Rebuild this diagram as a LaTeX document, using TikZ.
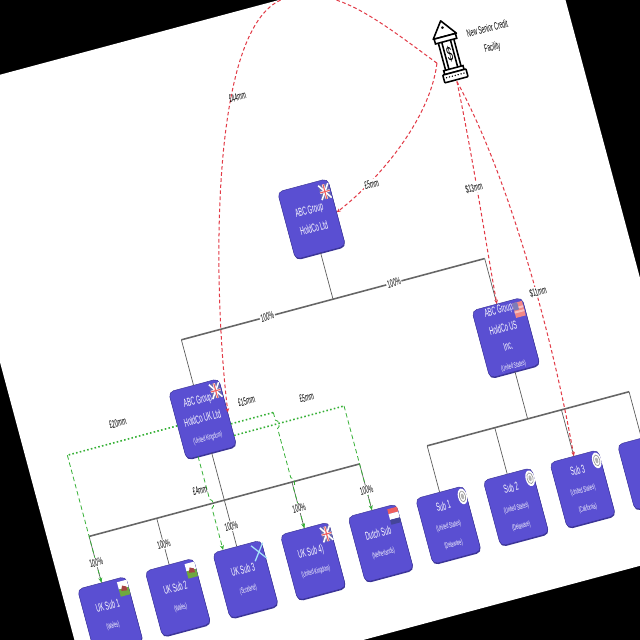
\documentclass[tikz,border=0pt]{standalone}
\usepackage{xcolor}
\usepackage{fontspec}
\setmainfont[FakeStretch=0.48, WordSpace=1]{Liberation Sans}
\usetikzlibrary{shapes, arrows, arrows.meta, positioning, shadows}
\definecolor{entity}{HTML}{5A4FD2}
\definecolor{entityedge}{HTML}{3B3496}
\definecolor{debtred}{HTML}{E23A46}
\definecolor{debtgreen}{HTML}{35B035}
\definecolor{flagblue}{HTML}{45459A}
\definecolor{flagred}{HTML}{EE5F5F}
\definecolor{flaggreen}{HTML}{6FA83E}
\newcommand{\placename}[1]{{\fontsize{3.5}{8.4}\selectfont #1}}

\tikzset{
  ukflag/.pic={
    \fill[flagblue!80!white] (-5,-7.5) rectangle (5,7.5);
    \draw[white, line width=.7pt] (-5,-7.5) -- (5,7.5) (-5,7.5) -- (5,-7.5);
    \draw[white, line width=1pt] (0,-7.5) -- (0,7.5) (-5,0) -- (5,0);
    \draw[flagred, line width=.5pt] (0,-7.5) -- (0,7.5) (-5,0) -- (5,0);
  },
  walesflag/.pic={
    \fill[white] (-5,-7.5) rectangle (5,0);
    \fill[flaggreen] (-5,0) rectangle (5,7.5);
    \fill[flagred!70!black] (-3,2) -- (-1,-3) -- (3,-1) -- (3,3) -- cycle;
  },
  scotflag/.pic={
    \draw[cyan!35!white, line width=.55pt] (-6,-8) -- (6,8) (-6,8) -- (6,-8);
  },
  dutchflag/.pic={
    \fill[flagred] (-5,-8) rectangle (5,-3);
    \fill[white] (-5,-3) rectangle (5,3);
    \fill[flagblue] (-5,3) rectangle (5,8);
  },
  usflag/.pic={
    \fill[flagred!75!white] (-5,-7.5) rectangle (5,7.5);
    \fill[white!60!flagred] (-5,-3) rectangle (5,-1) (-5,1) rectangle (5,3);
    \fill[flagblue!70!white] (-5,-7.5) rectangle (0,0);
  },
  sealmark/.pic={
    \fill[white] (0,0) ellipse (4.5 and 8);
    \draw[gray!80, line width=.3pt] (0,0) ellipse (3 and 5.5);
    \fill[gray!60] (0,0) ellipse (1.5 and 3);
  },
  bankicon/.pic={
    \draw[black, line width=.7pt, line join=round, fill=white]
      (0,-31) -- (12,-15) -- (-12,-15) -- cycle;
    \fill[black] (0,-24) circle (1.5);
    \draw[black, line width=.7pt, fill=white] (-11,-15) rectangle (11,-10);
    \draw[black, line width=.7pt] (-8,-10) -- (-8,18) (-4.5,-10) -- (-4.5,18)
      (8,-10) -- (8,18) (4.5,-10) -- (4.5,18);
    \draw[black, line width=.7pt, fill=white] (-10,18) rectangle (10,22);
    \draw[black, line width=.7pt, fill=white, rounded corners=.3pt] (-12,22) rectangle (12,30);
    \foreach \k in {-9,-6,...,9}
      \fill[black] (\k,25.5) circle (.8);
  }
}

\begin{document}
\begin{tikzpicture}[
    x=0.015625cm, y=-0.015625cm,
    holdbox/.style={
      rectangle, rounded corners=.8mm,
      draw=entityedge, line width=.2pt, fill=entity,
      text=white, font=\fontsize{5.2}{8.4}\selectfont,
      text width=.76cm, align=flush center, inner sep=0pt,
      minimum width=.81cm, minimum height=1.09cm,
      drop shadow={shadow xshift=.2pt, shadow yshift=-.5pt, fill=entityedge, opacity=1}
    },
    subbox/.style={
      holdbox, text width=.74cm,
      minimum width=.78cm, minimum height=1.06cm
    },
    tie/.style={gray!70!black, line width=.3pt},
    bus/.style={gray!80!black, line width=.7pt},
    redline/.style={-{Stealth[length=1.8pt, width=1.6pt]}, debtred, dash pattern=on 1.6pt off 1.1pt, line width=.45pt},
    greendot/.style={debtgreen, densely dotted, line width=.7pt},
    greenline/.style={-{Stealth[length=2.2pt, width=1.8pt]}, debtgreen, dash pattern=on 2pt off 1.3pt, line width=.35pt},
    amount/.style={font=\fontsize{4.8}{8.5}\selectfont, inner sep=.5pt, align=flush center},
    percent/.style={amount, fill=white}
  ]
    \useasboundingbox (0,0) rectangle (640,640);
    \fill[black] (0,0) rectangle (640,640);

    \begin{scope}[rotate around={15:(321,320)}, transform shape]
    \fill[white] (0,0) rectangle (640,640);

    % ── Top entity and the credit facility ────────────────────────────────
    \node[holdbox] (topco) at (338, 220) {ABC Group\\HoldCo Ltd};
    \node[minimum width=.44cm, minimum height=.98cm, inner sep=0pt] (bank) at (514, 93) {};
    \path (bank.center) pic {bankicon};
    \node[font=\fontsize{9}{9}\selectfont, inner sep=0pt] (bankdollar) at (514, 97) {\$};
    \node[amount] (banklabel) at (557, 92) {New Senior Credit\\Facility};

    % ── HoldCo row ────────────────────────────────────────────────────────
    \node[holdbox] (ukhold) at (181, 385) {ABC Group\\HoldCo UK Ltd\\\placename{(United Kingdom)}};
    \node[holdbox] (ushold) at (495, 385) {ABC Group\\HoldCo US\\Inc.\\\placename{(United States)}};

    % ── Subsidiary row ────────────────────────────────────────────────────
    \node[subbox] (uksub1) at (41,  551) {UK Sub 1\\\placename{(Wales)}};
    \node[subbox] (uksub2) at (111, 551) {UK Sub 2\\\placename{(Wales)}};
    \node[subbox] (uksub3) at (181, 551) {UK Sub 3\\\placename{(Scotland)}};
    \node[subbox] (uksub4) at (251, 551) {UK Sub 4)\\\placename{(United Kingdom)}};
    \node[subbox] (dutch)  at (321, 551) {Dutch Sub\\\placename{(Netherlands)}};
    \node[subbox] (ussub1) at (391, 551) {Sub 1\\\placename{(United States)}\\\placename{(Delaware)}};
    \node[subbox] (ussub2) at (461, 551) {Sub 2\\\placename{(United States)}\\\placename{(Delaware)}};
    \node[subbox] (ussub3) at (530, 551) {Sub 3\\\placename{(United States)}\\\placename{(California)}};
    \node[subbox] (ussub4) at (600, 551) {Sub 4\\\placename{(United States)}};

    % ── Flags ─────────────────────────────────────────────────────────────
    \path (topco.center) ++(20,-23) pic {ukflag};
    \path (ukhold.center) ++(20,-24) pic {ukflag};
    \path (ushold.center) ++(20,-24) pic {usflag};
    \path (uksub1.center) ++(20,-23) pic {walesflag};
    \path (uksub2.center) ++(20,-23) pic {walesflag};
    \path (uksub3.center) ++(20,-23) pic {scotflag};
    \path (uksub4.center) ++(20,-23) pic {ukflag};
    \path (dutch.center) ++(20,-23) pic {dutchflag};
    \foreach \n in {ussub1, ussub2, ussub3}
      \path (\n.center) ++(21,-24) pic {sealmark};

    % ── Ownership lines ───────────────────────────────────────────────────
    \coordinate (topleft)  at (181, 303);
    \coordinate (topright) at (495, 303);
    \coordinate (topmid)   at (338, 303);
    \coordinate (ukleft)   at (41,  469);
    \coordinate (ukright)  at (321, 469);
    \coordinate (usleft)   at (391, 469);
    \coordinate (usright)  at (600, 469);
    \coordinate (usmid)    at (495, 469);

    \draw[tie] (topco.south) -- (topmid);
    \draw[tie] (topleft) -- (ukhold.north);
    \draw[tie] (topright) -- (ushold.north);
    \draw[tie] (ukhold.south) -- (uksub3.north);
    \draw[tie] (ushold.south) -- (usmid);
    \draw[bus] (topleft) -- (topright);
    \draw[bus] (ukleft) -- (ukright);
    \draw[bus] (usleft) -- (usright);
    \foreach \n/\u in {uksub1/41, uksub2/111, uksub4/251, dutch/321}
      \draw[tie] (\u,469) -- (\n.north);
    \foreach \n/\u in {ussub1/391, ussub2/461, ussub3/530, ussub4/600}
      \draw[tie] (\u,469) -- (\n.north);

    % ── Senior facility, red ──────────────────────────────────────────────
    \draw[redline] ([yshift=-.14cm]bank.west) .. controls (450,40) and (420,0) .. (371,0)
      .. controls (290,0) and (225,260) .. (ukhold.east);
    \draw[redline] ([yshift=-.14cm]bank.west) .. controls (478,155) and (412,200) .. (topco.east);
    \draw[redline] (bank.south) .. controls (510,200) and (500,290) .. (ushold.north);
    \draw[redline] (bank.south) .. controls (540,230) and (540,400) .. (ussub3.north);

    % ── Intra-group loans, green ──────────────────────────────────────────
    \coordinate (loanone) at (41, 385);
    \coordinate (loantwo) at (251, 397);
    \coordinate (loanthree) at (321, 409);
    \draw[greendot] (ukhold.west) -- (loanone);
    \draw[greendot] ([yshift=-.1875cm]ukhold.east) -- (loantwo);
    \draw[greendot] ([yshift=-.375cm]ukhold.east) -- (loanthree);
    \draw[greenline] (loanone) -- (uksub1.north);
    \draw[greenline] ([xshift=-.22cm]ukhold.south) -- (167, 464.5) .. controls (170.5, 465) and (170.5, 473) .. (167, 473.5) -- ([xshift=-.22cm]uksub3.north);
    \draw[greenline] (loantwo) -- (251, 405) .. controls (254.5, 405.5) and (254.5, 413) .. (251, 413.5)
      -- (251, 464.5) .. controls (254.5, 465) and (254.5, 473) .. (251, 473.5) -- (uksub4.north);
    \draw[greenline] (loanthree) -- (dutch.north);

    % ── Amounts ───────────────────────────────────────────────────────────
    \node[amount] (amt44) at (298, 83) {£44mm};
    \node[amount, fill=white] (amt5) at (405, 202) {£5mm};
    \node[amount, fill=white] (amt13) at (503, 232) {\$13mm};
    \node[amount, fill=white] (amt11) at (538, 349) {\$11mm};
    \node[amount] (amt20) at (98, 367) {£20mm};
    \node[amount] (amt15) at (228, 379) {£15mm};
    \node[amount] (amt5b) at (287, 391) {£5mm};
    \node[amount] (amt4) at (160, 453) {£4mm};

    % ── Percentages ───────────────────────────────────────────────────────
    \node[percent] (pcttopa) at (270, 303) {100\%};
    \node[percent] (pcttopb) at (401, 303) {100\%};
    \foreach \u in {41, 111, 181, 251, 321}
      \node[percent] (pct\u) at (\u, 496) {100\%};
    \end{scope}
\end{tikzpicture}
\end{document}
